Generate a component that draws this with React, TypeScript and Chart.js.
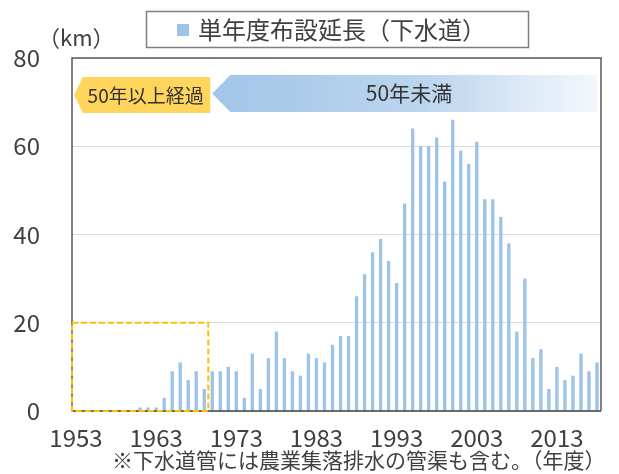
import React, { useEffect, useRef } from "react";
import { Chart, registerables } from "chart.js";

Chart.register(...registerables);

const FONT = '"Noto Sans CJK JP", "Noto Sans", sans-serif';

const years: string[] = [];
for (let y = 1953; y <= 2018; y++) years.push(String(y));

// 単年度布設延長（下水道） km, 1953..2018
const lengths: number[] = [
  0, 0, 0, 0, 0, 0, 0, 0, // 1953-1960
  0.8, 0.8, 0.8, 3, 9, 11, 7, 9, 5, // 1961-1969
  9, 9, 10, 9, 3, 13, 5, 12, 18, 12, // 1970-1979
  9, 8, 13, 12, 11, 15, 17, 17, 26, 31, // 1980-1989
  36, 39, 34, 29, 47, 64, 60, 60, 62, 52, // 1990-1999
  66, 59, 56, 61, 48, 48, 44, 38, 18, 30, // 2000-2009
  12, 14, 5, 10, 7, 8, 13, 9, 11, // 2010-2018
];

const yTicks: number[] = [0, 20, 40, 60, 80];
const legendLabel = "単年度布設延長（下水道）";
const unitLabel = "（km）";
const oldLabel = "50年以上経過";
const newLabel = "50年未満";
const noteLabel = "※下水道管には農業集落排水の管渠も含む。（年度）";
const oldLastIndex = 16; // 1969
const boxTop = 20;

const overlay = {
  id: "overlay",
  afterDraw(chart: any) {
    const ctx = chart.ctx as CanvasRenderingContext2D;
    const a = chart.chartArea;
    const xs = chart.scales.x;
    const ys = chart.scales.y;
    ctx.save();

    // frame
    ctx.strokeStyle = "#595959";
    ctx.lineWidth = 1.5;
    ctx.beginPath();
    ctx.moveTo(a.left, a.bottom);
    ctx.lineTo(a.left, a.top);
    ctx.lineTo(a.right, a.top);
    ctx.lineTo(a.right, a.bottom);
    ctx.stroke();
    ctx.strokeStyle = "#404040";
    ctx.beginPath();
    ctx.moveTo(a.left, a.bottom);
    ctx.lineTo(a.right, a.bottom);
    ctx.stroke();

    // dashed box
    const bx1 = (xs.getPixelForValue(oldLastIndex) + xs.getPixelForValue(oldLastIndex + 1)) / 2;
    const by = ys.getPixelForValue(boxTop);
    ctx.strokeStyle = "#FFC000";
    ctx.lineWidth = 2;
    ctx.setLineDash([6, 3]);
    ctx.strokeRect(a.left, by, bx1 - a.left, a.bottom - by);
    ctx.setLineDash([]);

    // yellow arrow
    const yTop = 77, yBot = 113, yMid = (yTop + yBot) / 2;
    ctx.fillStyle = "#FFD55C";
    ctx.beginPath();
    ctx.moveTo(a.left + 2, yMid);
    ctx.lineTo(a.left + 11, yTop);
    ctx.lineTo(bx1 + 2, yTop);
    ctx.lineTo(bx1 + 2, yBot);
    ctx.lineTo(a.left + 11, yBot);
    ctx.closePath();
    ctx.fill();
    ctx.fillStyle = "#333333";
    ctx.font = `19px ${FONT}`;
    ctx.textAlign = "center";
    ctx.textBaseline = "middle";
    ctx.fillText(oldLabel, (a.left + 11 + bx1) / 2, yMid + 1);

    // blue arrow
    const tTop = 75, tBot = 112, tMid = (tTop + tBot) / 2;
    const tipX = bx1 + 4;
    const endX = a.right - 4;
    const g = ctx.createLinearGradient(tipX, 0, endX, 0);
    g.addColorStop(0, "#A2C5E7");
    g.addColorStop(0.55, "#BCD5EE");
    g.addColorStop(1, "#F3F7FC");
    ctx.fillStyle = g;
    ctx.beginPath();
    ctx.moveTo(tipX, tMid);
    ctx.lineTo(tipX + 18, tTop);
    ctx.lineTo(endX, tTop);
    ctx.lineTo(endX, tBot);
    ctx.lineTo(tipX + 18, tBot);
    ctx.closePath();
    ctx.fill();
    ctx.fillStyle = "#333333";
    ctx.font = `21px ${FONT}`;
    ctx.fillText(newLabel, 409, tMid);

    // legend
    ctx.strokeStyle = "#7F7F7F";
    ctx.lineWidth = 1.5;
    ctx.strokeRect(146.5, 11.5, 382, 36);
    ctx.fillStyle = "#9DC3E6";
    ctx.fillRect(177, 24, 12, 12);
    ctx.fillStyle = "#404040";
    ctx.font = `24px ${FONT}`;
    ctx.textAlign = "left";
    ctx.fillText(legendLabel, 198, 30);

    // unit
    ctx.font = `22px ${FONT}`;
    ctx.fillText(unitLabel, 38, 38);

    // note
    ctx.font = `21px ${FONT}`;
    ctx.fillText(noteLabel, 112, 460);

    ctx.restore();
  },
};

export default function App() {
  const ref = useRef<HTMLCanvasElement>(null);
  useEffect(() => {
    const chart = new Chart(ref.current!, {
      type: "bar",
      data: {
        labels: years,
        datasets: [
          {
            label: legendLabel,
            data: lengths,
            backgroundColor: "#9DC3E6",
            categoryPercentage: 1,
            barPercentage: 0.42,
          },
        ],
      },
      options: {
        responsive: true,
        maintainAspectRatio: false,
        animation: false,
        layout: { padding: { left: 0, top: 58, right: 18, bottom: 0 } },
        plugins: { legend: { display: false }, tooltip: { enabled: false } },
        scales: {
          x: {
            grid: { display: false, drawTicks: false },
            border: { display: false },
            ticks: {
              autoSkip: false,
              maxRotation: 0,
              minRotation: 0,
              padding: 12,
              color: "#404040",
              font: { family: FONT, size: 24 },
              callback: (_v: any, i: number) => (i % 10 === 0 ? years[i] : ""),
            },
            afterFit: (s: any) => {
              s.height = 63;
            },
          },
          y: {
            min: 0,
            max: 80,
            afterBuildTicks: (s: any) => {
              s.ticks = yTicks.map((v) => ({ value: v }));
            },
            grid: { color: "#D9D9D9", lineWidth: 1, drawTicks: false },
            border: { display: false },
            ticks: {
              padding: 32,
              color: "#404040",
              font: { family: FONT, size: 24 },
            },
            afterFit: (s: any) => {
              s.width = 72;
            },
          },
        },
      },
      plugins: [overlay],
    });
    return () => chart.destroy();
  }, []);
  return (
    <div style={{ position: "fixed", left: 0, top: 0, width: 619, height: 474, background: "#fff" }}>
      <canvas ref={ref} />
    </div>
  );
}
